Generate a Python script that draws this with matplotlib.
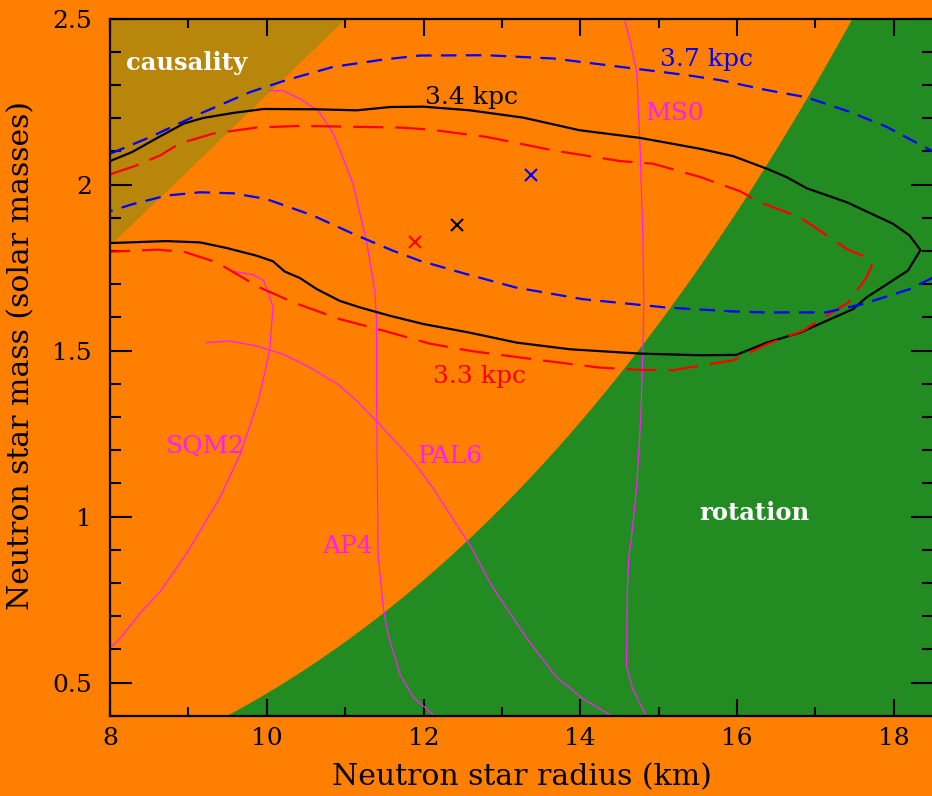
import numpy as np
import matplotlib
matplotlib.use("Agg")
import matplotlib.pyplot as plt
from matplotlib.ticker import MultipleLocator

plt.rcParams["font.family"] = ["DejaVu Serif"]

ORANGE = "#ff8000"
GREEN = "#228b22"
GOLD = "#b8860b"
MAGENTA = "#ff1aff"

# Distance contours in the mass-radius plane
r_34 = [8.00, 8.28, 8.62, 8.94, 9.19, 9.57, 9.96, 10.64, 11.15, 11.58, 12.00, 12.59,
        13.27, 13.99, 14.76, 15.53, 15.95, 16.38, 16.63, 16.89, 17.40, 17.99, 18.20,
        18.34, 18.18, 17.65, 17.48, 16.80, 16.38, 15.99, 15.53, 14.76, 13.87, 13.19,
        12.59, 12.00, 11.57, 11.19, 10.93, 10.64, 10.42, 10.23, 10.08, 9.87, 9.49,
        9.15, 8.72, 8.00]
m_34 = [2.071, 2.098, 2.143, 2.184, 2.201, 2.216, 2.228, 2.227, 2.224, 2.234, 2.235, 2.224,
        2.202, 2.164, 2.141, 2.108, 2.086, 2.048, 2.023, 1.989, 1.947, 1.882, 1.847,
        1.803, 1.741, 1.660, 1.625, 1.554, 1.524, 1.487, 1.486, 1.491, 1.504, 1.524,
        1.554, 1.580, 1.605, 1.630, 1.650, 1.685, 1.719, 1.738, 1.769, 1.786, 1.809,
        1.826, 1.830, 1.824]

r_33 = [8.00, 8.34, 8.64, 8.89, 9.32, 9.87, 10.42, 11.19, 11.70, 12.08, 12.80, 13.66,
        14.51, 14.93, 15.53, 16.04, 16.29, 16.80, 17.40, 17.65, 17.72, 17.65, 17.42,
        17.14, 16.84, 16.38, 15.95, 15.18, 14.75, 14.24, 13.56, 12.60, 12.08, 11.49,
        10.93, 10.34, 9.91, 9.36, 8.94, 8.60, 8.00]
m_33 = [2.031, 2.058, 2.088, 2.124, 2.154, 2.172, 2.177, 2.174, 2.172, 2.166, 2.144, 2.103,
        2.071, 2.063, 2.023, 1.980, 1.947, 1.902, 1.806, 1.781, 1.756, 1.720, 1.645,
        1.605, 1.560, 1.519, 1.471, 1.441, 1.442, 1.449, 1.469, 1.499, 1.521, 1.560,
        1.595, 1.645, 1.690, 1.766, 1.798, 1.804, 1.798]

r_37_upper = [8.00, 8.51, 9.15, 9.79, 10.25, 10.85, 11.49, 11.95, 12.80, 13.66, 14.51,
              15.36, 15.78, 16.38, 16.89, 17.44, 17.91, 18.50]
m_37_upper = [2.093, 2.143, 2.214, 2.279, 2.315, 2.355, 2.377, 2.389, 2.390, 2.380, 2.355,
              2.330, 2.315, 2.285, 2.263, 2.219, 2.174, 2.100]
r_37_lower = [18.50, 18.20, 17.60, 17.13, 16.37, 15.95, 15.09, 14.03, 13.18, 12.54, 11.95,
              11.61, 11.10, 10.59, 9.99, 9.57, 9.15, 8.72, 8.30, 8.00]
m_37_lower = [1.720, 1.685, 1.640, 1.615, 1.615, 1.618, 1.630, 1.655, 1.690, 1.731, 1.771,
              1.801, 1.852, 1.907, 1.957, 1.974, 1.977, 1.967, 1.942, 1.920]

# Best-fit points for each distance
best_r = [11.89, 12.43, 13.37]
best_m = [1.828, 1.877, 2.028]
best_colors = ["red", "black", "blue"]

# Equation-of-state mass-radius relations
eos_ms0_r = [14.84, 14.67, 14.59, 14.60, 14.62, 14.65, 14.72, 14.77, 14.80, 14.81, 14.80,
             14.76, 14.72, 14.63, 14.56]
eos_ms0_m = [0.40, 0.48, 0.55, 0.78, 0.88, 0.93, 1.09, 1.29, 1.50, 1.65, 1.83, 2.13,
             2.34, 2.44, 2.50]
eos_ap4_r = [12.14, 11.87, 11.70, 11.55, 11.49, 11.42, 11.40, 11.40, 11.38, 11.27, 11.10,
             10.85, 10.66, 10.42, 10.21, 10.04]
eos_ap4_m = [0.40, 0.455, 0.525, 0.643, 0.72, 0.885, 1.41, 1.59, 1.68, 1.831, 2.003,
             2.154, 2.222, 2.259, 2.283, 2.283]
eos_sqm2_r = [8.00, 8.13, 8.38, 8.64, 8.98, 9.40, 9.66, 9.89, 9.99, 10.04, 10.08, 10.04,
              9.96, 9.83, 9.57]
eos_sqm2_m = [0.604, 0.633, 0.708, 0.774, 0.890, 1.056, 1.187, 1.348, 1.449, 1.509, 1.630,
              1.660, 1.711, 1.728, 1.739]
eos_pal6_r = [9.23, 9.51, 9.87, 10.21, 10.55, 10.91, 11.15, 11.44, 11.87, 12.12, 12.34,
              12.59, 12.89, 13.31, 13.70, 14.04, 14.40]
eos_pal6_m = [1.524, 1.529, 1.514, 1.489, 1.449, 1.398, 1.348, 1.278, 1.167, 1.086, 1.006,
              0.915, 0.784, 0.636, 0.515, 0.45, 0.40]

# Physical limits
SPIN_HZ = 716.0            # mass-shedding limit for this spin frequency
CAUSAL_KM_PER_MSUN = 4.40  # causality: R > ~3 GM/c^2

fig = plt.figure(figsize=(9.32, 7.96), dpi=100, facecolor=ORANGE)
ax = fig.add_axes([110 / 932, 1 - 715.7 / 796, 823 / 932, 697 / 796])
ax.set_facecolor(ORANGE)
ax.set_xlim(8, 18.5)
ax.set_ylim(0.4, 2.5)

# Excluded regions
r_c = np.array([7.5, 2.6 * CAUSAL_KM_PER_MSUN])
ax.fill_between(r_c, r_c / CAUSAL_KM_PER_MSUN, 2.6, color=GOLD, lw=0, zorder=1)
r_rot = np.linspace(9.0, 19.0, 400)
m_rot = (SPIN_HZ / 1045.0) ** 2 * (r_rot / 10.0) ** 3
ax.fill_between(r_rot, 0.3, np.minimum(m_rot, 2.6), color=GREEN, lw=0, zorder=1)

# EOS curves
for rr, mm in [(eos_ms0_r, eos_ms0_m), (eos_ap4_r, eos_ap4_m),
               (eos_sqm2_r, eos_sqm2_m), (eos_pal6_r, eos_pal6_m)]:
    ax.plot(rr, mm, color=MAGENTA, lw=0.9, zorder=2)

# Distance contours
ax.plot(r_34, m_34, color="black", lw=1.6, zorder=3)
ax.plot(r_33, m_33, color="red", lw=1.6, linestyle=(0, (13.5, 5.4)), zorder=3)
for rr, mm in [(r_37_upper, m_37_upper), (r_37_lower, m_37_lower)]:
    ax.plot(rr, mm, color="blue", lw=1.6, linestyle=(0, (7.0, 4.2)), zorder=3)

for r, m, c in zip(best_r, best_m, best_colors):
    ax.plot(r, m, marker="x", color=c, ms=9, mew=1.5, ls="none", zorder=4)

# Labels
lab = dict(fontsize=18, va="baseline", ha="left", zorder=5)
ax.text(12.02, 2.244, "3.4 kpc", color="black", **lab)
ax.text(15.02, 2.357, "3.7 kpc", color="blue", **lab)
ax.text(12.12, 1.403, "3.3 kpc", color="red", **lab)
ax.text(14.83, 2.196, "MS0", color=MAGENTA, **lab)
ax.text(8.71, 1.192, "SQM2", color=MAGENTA, **lab)
ax.text(10.71, 0.890, "AP4", color=MAGENTA, **lab)
ax.text(11.92, 1.162, "PAL6", color=MAGENTA, **lab)
ax.text(8.21, 2.345, "causality", color="white", fontsize=17.5, fontweight="bold",
        va="baseline", ha="left", zorder=5)
ax.text(15.52, 0.991, "rotation", color="white", fontsize=17.5, fontweight="bold",
        va="baseline", ha="left", zorder=5)

# Axes styling
for s in ax.spines.values():
    s.set_linewidth(1.6)
    s.set_zorder(6)
ax.xaxis.set_major_locator(MultipleLocator(2))
ax.xaxis.set_minor_locator(MultipleLocator(1))
ax.yaxis.set_major_locator(MultipleLocator(0.5))
ax.yaxis.set_minor_locator(MultipleLocator(0.1))
ax.tick_params(which="both", direction="in", top=True, right=True, width=1.5,
               labelsize=18)
ax.tick_params(axis="x", which="major", length=12, pad=8)
ax.tick_params(axis="x", which="minor", length=6.5)
ax.tick_params(axis="y", which="major", length=15.5, pad=13)
ax.tick_params(axis="y", which="minor", length=7.7)
ax.set_xticks([8, 10, 12, 14, 16, 18])
ax.set_xticklabels(["8", "10", "12", "14", "16", "18"])
ax.set_yticks([0.5, 1.0, 1.5, 2.0, 2.5])
ax.set_yticklabels(["0.5", "1", "1.5", "2", "2.5"])

fig.text(522 / 932, 1 - 777 / 796, "Neutron star radius (km)", fontsize=21.5,
         ha="center", va="center")
fig.text(21 / 932, 1 - 356 / 796, "Neutron star mass (solar masses)", fontsize=21.5,
         ha="center", va="center", rotation=90)

fig.savefig("out.png", dpi=100, facecolor=ORANGE)
